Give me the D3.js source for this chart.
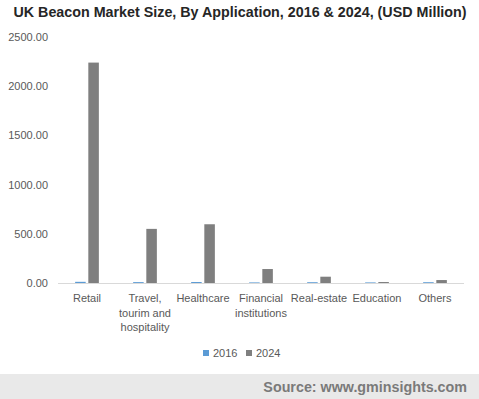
<!DOCTYPE html>
<html>
<head>
<meta charset="utf-8">
<script src="https://cdn.jsdelivr.net/npm/d3@7"></script>
<style>
  body { margin: 0; background: #fff; }
  svg { display: block; }
</style>
</head>
<body>
<div id="chart"></div>
<script>
// chart data
var categories = ["Retail", "Travel, tourim and hospitality", "Healthcare", "Financial institutions", "Real-estate", "Education", "Others"];
var labelLines = [["Retail"], ["Travel,", "tourim and", "hospitality"], ["Healthcare"], ["Financial", "institutions"], ["Real-estate"], ["Education"], ["Others"]];
var series = ["2016", "2024"];
var values2016 = [12, 9, 10, 6, 8, 6, 8];
var values2024 = [2240, 550, 597, 142, 64, 10, 30];
var yTicks = [0, 500, 1000, 1500, 2000, 2500];

var width = 479, height = 399;
var margin = {left: 58, right: 15, top: 37, bottom: 116};

var svg = d3.select('#chart').append('svg')
    .attr('width', width)
    .attr('height', height);

var font = "'Liberation Sans', Arial, sans-serif";

svg.append('text')
    .attr('x', 240).attr('y', 17)
    .attr('text-anchor', 'middle')
    .style('font-family', font)
    .style('font-weight', 'bold')
    .style('font-size', '14.3px')
    .attr('fill', '#262626')
    .text('UK Beacon Market Size, By Application, 2016 & 2024, (USD Million)');

var x = d3.scaleBand()
    .domain(categories)
    .range([margin.left, width - margin.right])
    .paddingInner(0).paddingOuter(0);

var x1 = d3.scaleBand()
    .domain(series)
    .range([0, x.bandwidth()])
    .paddingInner(0.2).paddingOuter(1.3);

var y = d3.scaleLinear()
    .domain([0, 2500])
    .range([height - margin.bottom, margin.top]);

var color = d3.scaleOrdinal().domain(series).range(['#5B9BD5', '#7F7F7F']);

// y axis labels
var yAxis = svg.append('g')
    .attr('transform', 'translate(' + (margin.left - 10) + ',0)')
    .call(d3.axisLeft(y).tickValues(yTicks).tickFormat(d3.format('.2f')).tickSize(0).tickPadding(0));
yAxis.select('.domain').remove();
yAxis.selectAll('text')
    .style('font-family', font)
    .style('font-size', '11px')
    .attr('fill', '#595959');

// bars
var data = categories.map(function(c, i) {
    return {cat: c, vals: [{s: '2016', v: values2016[i]}, {s: '2024', v: values2024[i]}]};
});

var group = svg.selectAll('.cat')
    .data(data)
    .enter().append('g')
    .attr('class', 'cat')
    .attr('transform', function(d) { return 'translate(' + x(d.cat) + ',0)'; });

group.selectAll('rect')
    .data(function(d) { return d.vals; })
    .enter().append('rect')
    .attr('x', function(d) { return x1(d.s); })
    .attr('width', x1.bandwidth())
    .attr('y', function(d) { return y(d.v); })
    .attr('height', function(d) { return y(0) - y(d.v); })
    .attr('fill', function(d) { return color(d.s); });

// x axis line
svg.append('line')
    .attr('x1', margin.left).attr('x2', width - margin.right)
    .attr('y1', y(0) + 0.5).attr('y2', y(0) + 0.5)
    .attr('stroke', '#d9d9d9');

// category labels
categories.forEach(function(c, i) {
    var t = svg.append('text')
        .attr('text-anchor', 'middle')
        .style('font-family', font)
        .style('font-size', '11px')
        .attr('fill', '#595959');
    labelLines[i].forEach(function(line, j) {
        t.append('tspan')
            .attr('x', x(c) + x.bandwidth() / 2)
            .attr('y', y(0) + 19 + j * 14.5)
            .text(line);
    });
});

// legend
var legend = svg.append('g');
var legendX = [203, 246];
series.forEach(function(s, i) {
    legend.append('rect')
        .attr('x', legendX[i]).attr('y', 350)
        .attr('width', 6).attr('height', 6)
        .attr('fill', color(s));
    legend.append('text')
        .attr('x', legendX[i] + 10).attr('y', 357)
        .style('font-family', font)
        .style('font-size', '11px')
        .attr('fill', '#595959')
        .text(s);
});

// source footer
svg.append('rect')
    .attr('x', 0).attr('y', 374)
    .attr('width', width).attr('height', 25)
    .attr('fill', '#e9e9e9');
svg.append('text')
    .attr('x', 467).attr('y', 392)
    .attr('text-anchor', 'end')
    .style('font-family', font)
    .style('font-weight', 'bold')
    .style('font-size', '14.3px')
    .attr('fill', '#7a7a7a')
    .text('Source: www.gminsights.com');
</script>
</body>
</html>
